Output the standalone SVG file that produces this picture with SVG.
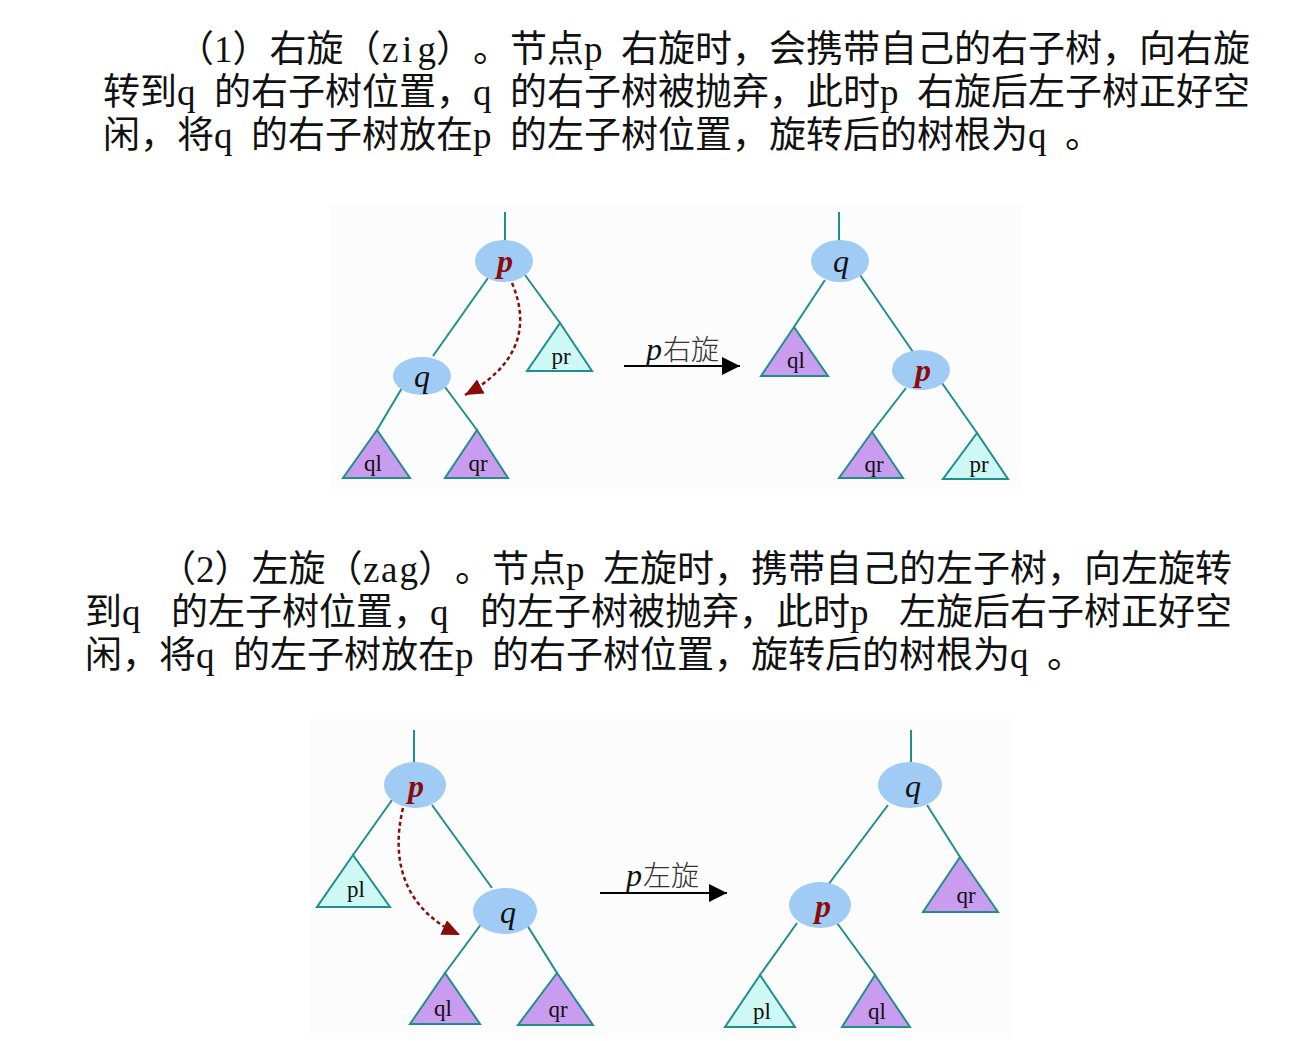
<svg xmlns="http://www.w3.org/2000/svg" width="1298" height="1041" viewBox="0 0 1298 1041">
<defs>
<style>
.para{font-family:"Liberation Serif","Noto Sans CJK SC",serif;font-size:37px;fill:#111;text-spacing-trim:space-all}
.edge{stroke:#1f8f8c;stroke-width:2;fill:none}
.node{fill:#9fcbf4}
.tri{stroke:#1f8f8c;stroke-width:2;stroke-linejoin:miter}
.tc{fill:#cdf8f4}
.tp{fill:#c99cf0}
.nl{font-family:"Liberation Serif",serif;font-style:italic;font-size:32px;text-anchor:middle}
.np{fill:#8b0b0b;font-weight:bold}
.nq{fill:#111}
.tl{font-family:"Liberation Serif",serif;font-size:23px;text-anchor:middle;fill:#111}
.dash{stroke:#8b0b0b;stroke-width:2.5;stroke-dasharray:4 3;fill:none}
.arr{stroke:#000;stroke-width:2;fill:none}
.al{font-family:"Liberation Serif",serif;font-style:italic;font-size:32px;fill:#111}
.ac{font-family:"Noto Sans CJK SC",serif;font-style:normal;font-size:28px;fill:#333;font-weight:300}
</style>
<marker id="mred" markerWidth="20" markerHeight="16" refX="18" refY="8" orient="auto" markerUnits="userSpaceOnUse"><path d="M0,0 L18,8 L0,16 Z" fill="#8b0b0b"/></marker>
<marker id="mblk" markerWidth="20" markerHeight="18" refX="18" refY="9" orient="auto" markerUnits="userSpaceOnUse"><path d="M0,0 L18,9 L0,18 Z" fill="#000"/></marker>
</defs>
<rect width="1298" height="1041" fill="#fff"/>
<rect x="330" y="203" width="692" height="287" fill="#fcfcfc"/>
<rect x="310" y="718" width="702" height="320" fill="#fcfcfc"/>

<g id="text">
<text class="para" y="62"><tspan x="177">（</tspan><tspan x="214">1</tspan><tspan x="232.5">）</tspan><tspan x="269.5">右旋</tspan><tspan x="343.5">（</tspan><tspan x="382">z</tspan><tspan x="402">i</tspan><tspan x="417.5">g</tspan><tspan x="436">）</tspan><tspan x="473">。</tspan><tspan x="510">节点</tspan><tspan x="584">p</tspan><tspan x="621">右旋时</tspan><tspan x="732">，</tspan><tspan x="769">会携带自己的右子树</tspan><tspan x="1102">，</tspan><tspan x="1139">向右旋</tspan></text>
<text class="para" y="105"><tspan x="103">转到</tspan><tspan x="177">q</tspan><tspan x="214">的右子树位置</tspan><tspan x="436">，</tspan><tspan x="473">q</tspan><tspan x="510">的右子树被抛弃</tspan><tspan x="769">，</tspan><tspan x="806">此时</tspan><tspan x="880">p</tspan><tspan x="917">右旋后左子树正好空</tspan></text>
<text class="para" y="148"><tspan x="103">闲</tspan><tspan x="140">，</tspan><tspan x="177">将</tspan><tspan x="214">q</tspan><tspan x="251">的右子树放在</tspan><tspan x="473">p</tspan><tspan x="510">的左子树位置</tspan><tspan x="732">，</tspan><tspan x="769">旋转后的树根为</tspan><tspan x="1028">q</tspan><tspan x="1065">。</tspan></text>
<text class="para" y="582"><tspan x="159">（</tspan><tspan x="196">2</tspan><tspan x="214.5">）</tspan><tspan x="251.5">左旋</tspan><tspan x="325.5">（</tspan><tspan x="363">z</tspan><tspan x="381">a</tspan><tspan x="399.5">g</tspan><tspan x="418">）</tspan><tspan x="455">。</tspan><tspan x="492">节点</tspan><tspan x="566">p</tspan><tspan x="603">左旋时</tspan><tspan x="714">，</tspan><tspan x="751">携带自己的左子树</tspan><tspan x="1047">，</tspan><tspan x="1084">向左旋转</tspan></text>
<text class="para" y="625"><tspan x="85">到</tspan><tspan x="122">q</tspan><tspan x="171">的左子树位置</tspan><tspan x="393">，</tspan><tspan x="430">q</tspan><tspan x="480">的左子树被抛弃</tspan><tspan x="739">，</tspan><tspan x="776">此时</tspan><tspan x="850">p</tspan><tspan x="899">左旋后右子树正好空</tspan></text>
<text class="para" y="668"><tspan x="85">闲</tspan><tspan x="122">，</tspan><tspan x="159">将</tspan><tspan x="196">q</tspan><tspan x="233">的左子树放在</tspan><tspan x="455">p</tspan><tspan x="492">的右子树位置</tspan><tspan x="714">，</tspan><tspan x="751">旋转后的树根为</tspan><tspan x="1010">q</tspan><tspan x="1047">。</tspan></text>
</g>

<g id="connectors">
<line class="edge" x1="505" y1="212" x2="505" y2="241"/>
<line class="edge" x1="488" y1="278" x2="433" y2="356"/>
<line class="edge" x1="525" y1="275" x2="560" y2="323"/>
<line class="edge" x1="402" y1="388" x2="377" y2="430"/>
<line class="edge" x1="445" y1="387" x2="477" y2="430"/>
<path class="dash" d="M512,283 C532,330 515,368 465,395" marker-end="url(#mred)"/>
<line class="arr" x1="624" y1="366" x2="740" y2="366" marker-end="url(#mblk)"/>
<line class="edge" x1="839" y1="212" x2="839" y2="241"/>
<line class="edge" x1="825" y1="280" x2="794" y2="327"/>
<line class="edge" x1="860" y1="275" x2="913" y2="352"/>
<line class="edge" x1="906" y1="388" x2="872" y2="432"/>
<line class="edge" x1="942" y1="383" x2="977" y2="433"/>

<line class="edge" x1="414" y1="730" x2="414" y2="763"/>
<line class="edge" x1="392" y1="800" x2="353" y2="855"/>
<line class="edge" x1="432" y1="805" x2="492" y2="888"/>
<line class="edge" x1="482" y1="923" x2="445" y2="973"/>
<line class="edge" x1="527" y1="925" x2="557" y2="973"/>
<path class="dash" d="M403,808 C390,862 405,910 460,935" marker-end="url(#mred)"/>
<line class="arr" x1="600" y1="893" x2="727" y2="893" marker-end="url(#mblk)"/>
<line class="edge" x1="911" y1="730" x2="911" y2="762"/>
<line class="edge" x1="888" y1="805" x2="828" y2="885"/>
<line class="edge" x1="927" y1="805" x2="960" y2="857"/>
<line class="edge" x1="797" y1="923" x2="760" y2="975"/>
<line class="edge" x1="837" y1="923" x2="875" y2="975"/>
</g>

<g id="label-rot-right"><text class="al" x="646" y="360">p<tspan class="ac" dx="1">右旋</tspan></text></g>
<g id="label-rot-left"><text class="al" x="626" y="886">p<tspan class="ac" dx="1">左旋</tspan></text></g>

<g id="t1-p"><ellipse class="node" cx="504" cy="261" rx="29" ry="21"/><text class="nl np" x="505" y="272">p</text></g>
<g id="t1-q"><ellipse class="node" cx="422" cy="376" rx="29" ry="19"/><text class="nl nq" x="422" y="387">q</text></g>
<g id="t1-pr"><polygon class="tri tc" points="560,323 527,371 592,371"/><text class="tl" x="561" y="364">pr</text></g>
<g id="t1-ql"><polygon class="tri tp" points="377,430 343,478 410,478"/><text class="tl" x="373" y="471">ql</text></g>
<g id="t1-qr"><polygon class="tri tp" points="477,430 445,478 508,478"/><text class="tl" x="478" y="471">qr</text></g>

<g id="t2-q"><ellipse class="node" cx="840" cy="261" rx="29" ry="21"/><text class="nl nq" x="841" y="272">q</text></g>
<g id="t2-ql"><polygon class="tri tp" points="794,327 761,376 828,376"/><text class="tl" x="796" y="368">ql</text></g>
<g id="t2-p"><ellipse class="node" cx="921" cy="370" rx="29" ry="20"/><text class="nl np" x="923" y="381">p</text></g>
<g id="t2-qr"><polygon class="tri tp" points="872,432 839,478 903,478"/><text class="tl" x="874" y="472">qr</text></g>
<g id="t2-pr"><polygon class="tri tc" points="977,433 943,479 1008,479"/><text class="tl" x="979" y="472">pr</text></g>

<g id="t3-p"><ellipse class="node" cx="415" cy="785" rx="31" ry="23"/><text class="nl np" x="416" y="797">p</text></g>
<g id="t3-pl"><polygon class="tri tc" points="353,855 317,907 390,907"/><text class="tl" x="356" y="897">pl</text></g>
<g id="t3-q"><ellipse class="node" cx="505" cy="911" rx="32" ry="23"/><text class="nl nq" x="508" y="923">q</text></g>
<g id="t3-ql"><polygon class="tri tp" points="445,973 410,1024 480,1024"/><text class="tl" x="443" y="1016">ql</text></g>
<g id="t3-qr"><polygon class="tri tp" points="557,973 518,1025 593,1025"/><text class="tl" x="558" y="1017">qr</text></g>

<g id="t4-q"><ellipse class="node" cx="910" cy="785" rx="32" ry="23"/><text class="nl nq" x="913" y="797">q</text></g>
<g id="t4-qr"><polygon class="tri tp" points="960,857 923,912 998,912"/><text class="tl" x="966" y="903">qr</text></g>
<g id="t4-p"><ellipse class="node" cx="820" cy="905" rx="31" ry="23"/><text class="nl np" x="823" y="917">p</text></g>
<g id="t4-pl"><polygon class="tri tc" points="760,975 725,1027 795,1027"/><text class="tl" x="762" y="1019">pl</text></g>
<g id="t4-ql"><polygon class="tri tp" points="875,975 842,1027 910,1027"/><text class="tl" x="877" y="1019">ql</text></g>
</svg>
